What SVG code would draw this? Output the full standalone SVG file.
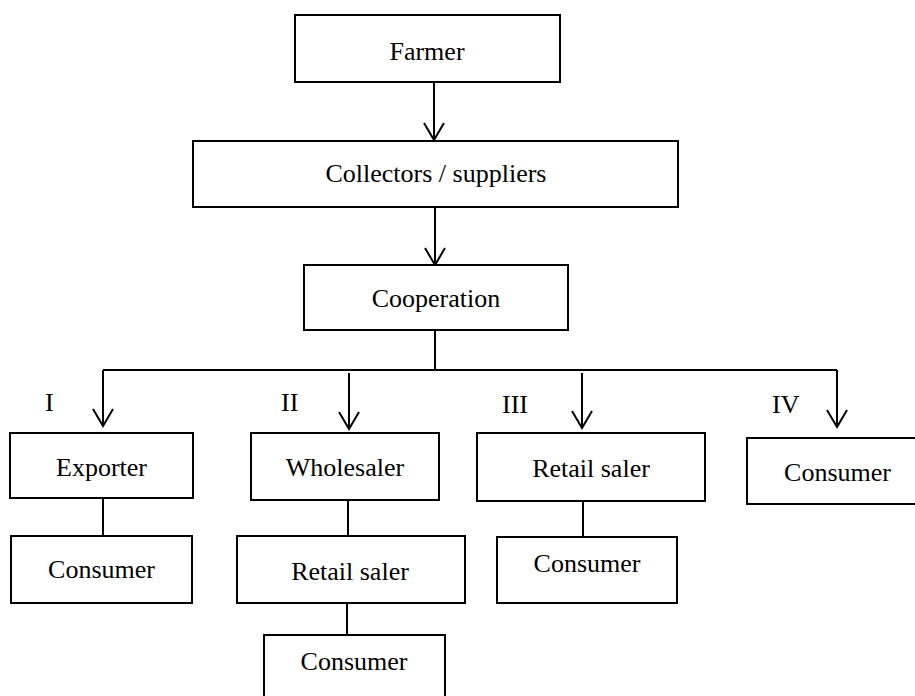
<svg xmlns="http://www.w3.org/2000/svg" width="915" height="696" viewBox="0 0 915 696">
<defs>
<style>
.box{fill:#fff;stroke:#000;stroke-width:2}
.ln{fill:none;stroke:#000;stroke-width:2}
.t{font-family:"Liberation Serif","Times New Roman",serif;font-size:26px;fill:#000;text-anchor:middle}
.lbl{font-family:"Liberation Serif","Times New Roman",serif;font-size:26px;fill:#000}
</style>
</defs>
<g id="connectors">
<line class="ln" x1="434" y1="82" x2="434" y2="140"/>
<line class="ln" x1="435" y1="207" x2="435" y2="265"/>
<line class="ln" x1="435" y1="330" x2="435" y2="370"/>
<line class="ln" x1="103" y1="370" x2="837" y2="370"/>
<line class="ln" x1="103" y1="370" x2="103" y2="426"/>
<line class="ln" x1="349" y1="373" x2="349" y2="429"/>
<line class="ln" x1="582" y1="373" x2="582" y2="428"/>
<line class="ln" x1="837" y1="370" x2="837" y2="427"/>
<line class="ln" x1="103" y1="498" x2="103" y2="536"/>
<line class="ln" x1="348" y1="500" x2="348" y2="536"/>
<line class="ln" x1="347" y1="603" x2="347" y2="635"/>
<line class="ln" x1="583" y1="501" x2="583" y2="537"/>
<g class="ln">
<path d="M424,123 L434,140 L444,123"/>
<path d="M425,248 L435,265 L445,248"/>
<path d="M93,409 L103,426 L113,409"/>
<path d="M339,412 L349,429 L359,412"/>
<path d="M572,411 L582,428 L592,411"/>
<path d="M827,410 L837,427 L847,410"/>
</g>
</g>
<g id="farmer"><rect class="box" x="295" y="15" width="265" height="67"/><text class="t" x="427" y="60">Farmer</text></g>
<g id="collectors"><rect class="box" x="193" y="141" width="485" height="66"/><text class="t" x="436" y="182">Collectors / suppliers</text></g>
<g id="cooperation"><rect class="box" x="304" y="265" width="264" height="65"/><text class="t" x="436" y="307">Cooperation</text></g>
<g id="label-i"><text class="lbl" x="45" y="411">I</text></g>
<g id="label-ii"><text class="lbl" x="281" y="411">II</text></g>
<g id="label-iii"><text class="lbl" x="502" y="413">III</text></g>
<g id="label-iv"><text class="lbl" x="772" y="413">IV</text></g>
<g id="exporter"><rect class="box" x="10" y="433" width="183" height="65"/><text class="t" x="101.5" y="476">Exporter</text></g>
<g id="consumer-i"><rect class="box" x="11" y="536" width="181" height="67"/><text class="t" x="101.5" y="578">Consumer</text></g>
<g id="wholesaler"><rect class="box" x="251" y="433" width="188" height="67"/><text class="t" x="345" y="476">Wholesaler</text></g>
<g id="retail-ii"><rect class="box" x="237" y="536" width="228" height="67"/><text class="t" x="350" y="580">Retail saler</text></g>
<g id="consumer-ii"><rect class="box" x="264" y="635" width="181" height="70"/><text class="t" x="354" y="670">Consumer</text></g>
<g id="retail-iii"><rect class="box" x="477" y="433" width="228" height="68"/><text class="t" x="591" y="477">Retail saler</text></g>
<g id="consumer-iii"><rect class="box" x="497" y="537" width="180" height="66"/><text class="t" x="587" y="572">Consumer</text></g>
<g id="consumer-iv"><rect class="box" x="747" y="438" width="190" height="66"/><text class="t" x="837.5" y="481">Consumer</text></g>
</svg>
